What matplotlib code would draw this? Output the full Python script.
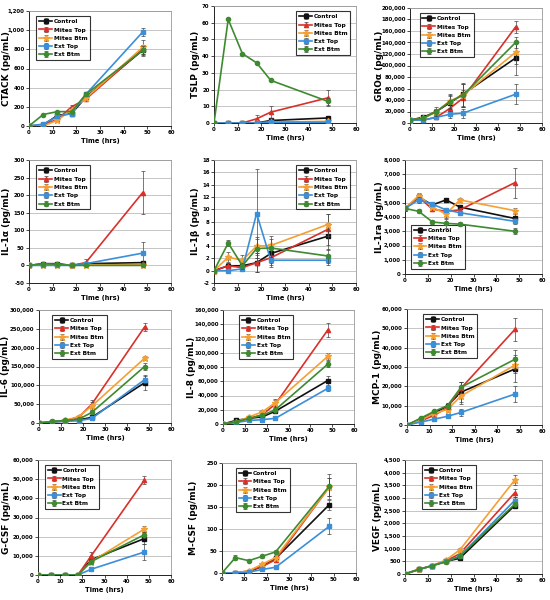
import matplotlib
matplotlib.use("Agg")
import matplotlib.pyplot as plt
from matplotlib.ticker import FuncFormatter

hours = [0, 6, 12, 18, 24, 48]
series_names = ["Control", "Mites Top", "Mites Btm", "Ext Top", "Ext Btm"]
colors = ["#111111", "#d9302a", "#f5a033", "#3b8fd8", "#3e8a30"]
markers = ["s", "^", "*", "s", "o"]

# values per panel: one row per series (Control, Mites Top, Mites Btm, Ext Top, Ext Btm)
ctack = [[0, 10, 110, 130, 300, 790],
         [0, 10, 70, 200, 280, 800],
         [0, 0, 60, 170, 290, 820],
         [0, 20, 100, 130, 330, 980],
         [0, 120, 150, 150, 330, 790]]
ctack_err = [[0, 5, 10, 15, 20, 60], [0, 5, 10, 20, 20, 50], [0, 5, 10, 15, 20, 80],
             [0, 10, 10, 15, 20, 40], [0, 10, 10, 10, 20, 40]]

tslp = [[0, 0, 0, 0, 1.5, 3],
        [0, 0, 0, 2.5, 6.5, 15],
        [0, 0, 0, 0, 0.5, 1],
        [0, 0, 0, 0, 0.5, 0.5],
        [0, 62, 41.5, 36, 25.5, 13]]
tslp_err = [[0, 0, 0, 0, 1.5, 1], [0, 0, 0, 2, 3.5, 5], [0, 0, 0, 0, 0.5, 0.5],
            [0, 0, 0, 0, 0.3, 0.3], [0, 0.5, 0.5, 0.5, 0.5, 2]]

gro = [[5000, 10000, 20000, 35000, 50000, 113000],
       [5000, 5000, 10000, 25000, 43000, 167000],
       [5000, 8000, 20000, 38000, 48000, 123000],
       [5000, 5000, 10000, 15000, 17000, 50000],
       [5000, 8000, 20000, 37000, 48000, 140000]]
gro_err = [[1000, 2000, 5000, 12000, 20000, 30000], [1000, 1000, 3000, 8000, 15000, 10000],
           [1000, 2000, 5000, 12000, 20000, 20000], [1000, 1000, 2000, 6000, 8000, 17000],
           [1000, 2000, 8000, 12000, 20000, 10000]]

il1a = [[0, 5, 5, 0, 5, 8],
        [0, 3, 3, 0, 8, 207],
        [0, 2, 2, 0, 2, 2],
        [0, 0, 0, 0, 5, 35],
        [0, 5, 3, 0, 0, 0]]
il1a_err = [[0, 3, 3, 2, 5, 5], [0, 3, 3, 2, 10, 62], [0, 2, 2, 2, 2, 2],
            [0, 2, 2, 2, 4, 33], [0, 3, 3, 2, 2, 2]]

il1b = [[0, 0.8, 0.8, 1.3, 2.8, 5.6],
        [0, 0.8, 0.5, 1.3, 2.1, 6.7],
        [0, 2.2, 1.7, 4.0, 4.1, 7.5],
        [0, 0, 0.3, 9.3, 1.7, 1.7],
        [0, 4.5, 0.8, 3.6, 3.7, 2.4]]
il1b_err = [[0, 0.5, 0.5, 1.5, 1.5, 2.2], [0, 0.5, 0.5, 1.5, 1.5, 2.5], [0, 0.8, 0.8, 1.5, 1.6, 1.8],
            [0, 0.2, 0.3, 7.2, 0.8, 0.8], [0, 0.5, 0.5, 1.5, 1.5, 1.2]]

il1ra = [[4600, 5400, 4850, 5200, 4700, 3900],
         [4600, 5400, 4550, 4400, 4500, 6400],
         [4600, 5500, 4700, 4200, 5200, 4450],
         [4600, 5200, 4900, 4500, 4300, 3700],
         [4600, 4400, 3650, 3550, 3500, 3000]]
il1ra_err = [[150, 200, 150, 150, 150, 300], [150, 200, 150, 150, 150, 1050], [150, 200, 150, 250, 150, 200],
             [150, 200, 150, 150, 150, 200], [150, 150, 150, 300, 150, 200]]

il6 = [[0, 3000, 5000, 8000, 15000, 107000],
       [0, 3000, 7000, 15000, 50000, 255000],
       [0, 3000, 7000, 17000, 45000, 172000],
       [0, 3000, 5000, 6000, 12000, 115000],
       [0, 4000, 7000, 10000, 28000, 150000]]
il6_err = [[0, 1000, 1000, 2000, 5000, 20000], [0, 1000, 1000, 3000, 10000, 10000],
           [0, 1000, 1000, 3000, 10000, 5000], [0, 1000, 1000, 2000, 5000, 10000],
           [0, 1000, 1000, 2000, 5000, 10000]]

il8 = [[0, 5000, 8000, 10000, 18000, 61000],
       [0, 3000, 8000, 13000, 28000, 132000],
       [0, 3000, 10000, 17000, 30000, 95000],
       [0, 2000, 5000, 6000, 8000, 50000],
       [0, 3000, 8000, 12000, 20000, 84000]]
il8_err = [[0, 1000, 1000, 2000, 3000, 6000], [0, 1000, 1000, 2000, 6000, 10000],
           [0, 1000, 1000, 2000, 5000, 5000], [0, 500, 1000, 1000, 2000, 4000],
           [0, 1000, 1000, 2000, 4000, 4000]]

mcp1 = [[0, 3000, 6000, 10000, 17000, 29000],
        [0, 2000, 5000, 9000, 19000, 49500],
        [0, 2500, 6000, 8000, 15000, 31000],
        [0, 1500, 3000, 4500, 6500, 16000],
        [0, 3500, 7000, 10000, 19500, 34000]]
mcp1_err = [[0, 500, 1000, 1500, 5000, 7000], [0, 500, 1000, 1500, 3000, 6000],
            [0, 500, 1000, 1500, 4000, 4000], [0, 300, 500, 1000, 2000, 4000],
            [0, 500, 1000, 1500, 3000, 5000]]

gcsf = [[0, 0, 0, 0, 8000, 19000],
        [0, 0, 0, 0, 10000, 49500],
        [0, 0, 0, 0, 7000, 24000],
        [0, 0, 0, 0, 3000, 12000],
        [0, 0, 0, 0, 7000, 21000]]
gcsf_err = [[0, 0, 0, 0, 2000, 3000], [0, 0, 0, 0, 2000, 2000], [0, 0, 0, 0, 1500, 1500],
            [0, 0, 0, 0, 1000, 4000], [0, 0, 0, 0, 1500, 1500]]

mcsf = [[0, 0, 3, 15, 33, 155],
        [0, 0, 5, 15, 30, 195],
        [0, 0, 5, 20, 35, 195],
        [0, 0, 2, 8, 13, 106],
        [0, 35, 28, 38, 48, 197]]
mcsf_err = [[0, 1, 1, 3, 5, 12], [0, 1, 1, 3, 5, 20], [0, 1, 1, 3, 5, 20],
            [0, 1, 1, 2, 3, 18], [0, 5, 3, 3, 5, 28]]

vegf = [[0, 180, 330, 500, 620, 2700],
        [0, 180, 330, 520, 800, 3200],
        [0, 180, 330, 560, 950, 3700],
        [0, 180, 330, 500, 700, 2900],
        [0, 180, 330, 480, 700, 2750]]
vegf_err = [[0, 20, 30, 40, 50, 100], [0, 20, 30, 40, 60, 150], [0, 20, 30, 40, 60, 200],
            [0, 20, 30, 40, 50, 150], [0, 20, 30, 40, 50, 100]]

labels = ["CTACK (pg/mL)", "TSLP (pg/mL)", "GRO\u03b1 (pg/mL)",
          "IL-1\u03b1 (pg/mL)", "IL-1\u03b2 (pg/mL)", "IL-1ra (pg/mL)",
          "IL-6 (pg/mL)", "IL-8 (pg/mL)", "MCP-1 (pg/mL)",
          "G-CSF (pg/mL)", "M-CSF (pg/mL)", "VEGF (pg/mL)"]
panels = [(ctack, ctack_err), (tslp, tslp_err), (gro, gro_err),
          (il1a, il1a_err), (il1b, il1b_err), (il1ra, il1ra_err),
          (il6, il6_err), (il8, il8_err), (mcp1, mcp1_err),
          (gcsf, gcsf_err), (mcsf, mcsf_err), (vegf, vegf_err)]
yranges = [(0, 1200, 200), (0, 70, 10), (0, 200000, 20000),
           (-50, 300, 50), (-2, 18, 2), (0, 8000, 1000),
           (0, 300000, 50000), (0, 160000, 20000), (0, 60000, 10000),
           (0, 60000, 10000), (0, 250, 50), (0, 4500, 500)]

# axes boxes in pixels: left, top, right, bottom; and x pixel of the y label centre
boxes = [(29, 11, 171, 126), (214, 6, 356, 123), (410, 8, 542, 123),
         (29, 160, 171, 283), (214, 160, 356, 283), (405, 160, 542, 274),
         (39, 310, 171, 423), (223, 310, 354, 424), (407, 309, 542, 425),
         (38, 460, 171, 575), (222, 463, 356, 573), (405, 460, 542, 574)]
label_x = [6.5, 195, 379, 7, 195, 380, 6, 192, 378, 7, 193, 378]
legend_loc = [(0.03, 0.98, "upper left"), (0.98, 0.98, "upper right"), (0.05, 0.98, "upper left"),
              (0.03, 0.98, "upper left"), (0.98, 0.98, "upper right"), (0.02, 0.02, "lower left"),
              (0.08, 0.98, "upper left"), (0.1, 0.98, "upper left"), (0.1, 0.98, "upper left"),
              (0.03, 0.98, "upper left"), (0.08, 0.98, "upper left"), (0.1, 0.98, "upper left")]

W, H = 550, 600
fig = plt.figure(figsize=(5.5, 6), dpi=100)

fmt = FuncFormatter(lambda v, p: "{:,.0f}".format(v))

for i in range(12):
    l, t, r, b = boxes[i]
    ax = fig.add_axes([l / W, 1 - b / H, (r - l) / W, (b - t) / H])
    data, err = panels[i]
    for k in range(5):
        ms = 4.5 if markers[k] == "*" else 3
        ax.errorbar(hours, data[k], yerr=err[k], color=colors[k], marker=markers[k],
                    markersize=ms, linewidth=1.2, elinewidth=0.5, ecolor="#444444",
                    capsize=1.2, capthick=0.5, label=series_names[k], zorder=3 + k)
    lo, hi, st = yranges[i]
    ax.set_ylim(lo, hi)
    ax.set_yticks(range(lo, hi + 1, st))
    ax.yaxis.set_major_formatter(fmt)
    ax.set_xlim(0, 60)
    ax.set_xticks(range(0, 61, 10))
    ax.grid(axis="y", color="#bbbbbb", linewidth=0.6)
    ax.set_axisbelow(True)
    for s in ["top", "right"]:
        ax.spines[s].set_color("#999999")
        ax.spines[s].set_linewidth(0.6)
    for s in ["left", "bottom"]:
        ax.spines[s].set_color("#222222")
        ax.spines[s].set_linewidth(0.7)
    ax.tick_params(labelsize=3.9, length=2, width=0.5, pad=1.2)
    for lab in ax.get_xticklabels() + ax.get_yticklabels():
        lab.set_fontweight("bold")
    ax.set_ylabel(labels[i], fontsize=6.4, fontweight="bold", va="center")
    ax.yaxis.set_label_coords((label_x[i] - l) / (r - l), 0.5)
    ax.set_xlabel("Time (hrs)", fontsize=4.8, fontweight="bold", labelpad=1.5)
    lx, ly, loc = legend_loc[i]
    leg = ax.legend(loc=loc, bbox_to_anchor=(lx, ly), prop={"size": 4.2, "weight": "bold"},
                    frameon=True, fancybox=False, edgecolor="black", handlelength=2.2,
                    labelspacing=0.55, borderpad=0.5, handletextpad=0.3)
    leg.get_frame().set_linewidth(0.8)

fig.savefig("out.png", dpi=100)
